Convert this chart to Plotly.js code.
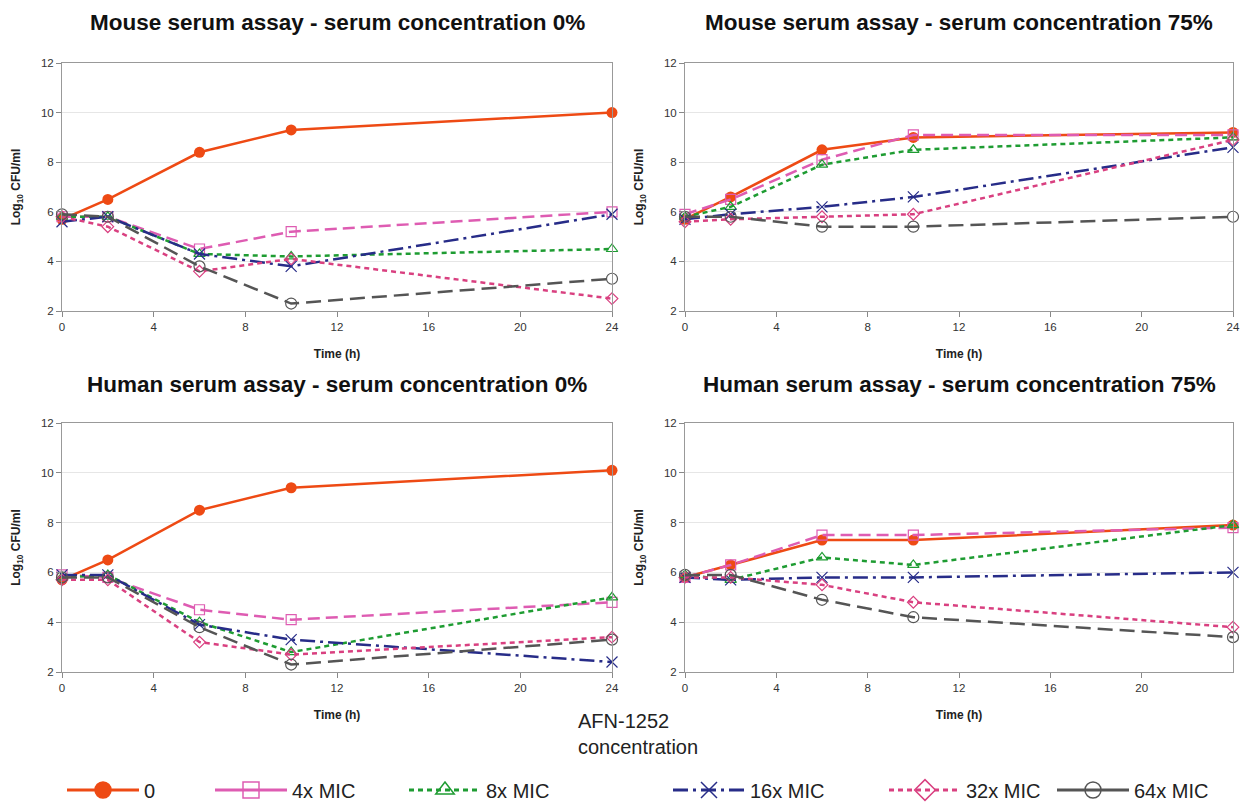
<!DOCTYPE html>
<html>
<head>
<meta charset="utf-8">
<script src="https://cdn.plot.ly/plotly-3.0.1.min.js"></script>
<style>html,body{margin:0;padding:0;background:#fff;}#chart{width:1240px;height:803px;}</style>
</head>
<body>
<div id="chart"></div>
<script>
// ---- data ----
var times = [0, 2, 6, 10, 24];
var seriesNames = ['0', '4x MIC', '8x MIC', '16x MIC', '32x MIC', '64x MIC'];
var panelTitles = [
  'Mouse serum assay - serum concentration 0%',
  'Mouse serum assay - serum concentration 75%',
  'Human serum assay - serum concentration 0%',
  'Human serum assay - serum concentration 75%'
];
var xTickVals = [0, 4, 8, 12, 16, 20, 24];
var xTickValsLast = [0, 4, 8, 12, 16, 20];
var yTickVals = [2, 4, 6, 8, 10, 12];

// values per series: [0, 4x, 8x, 16x, 32x, 64x]
var mouse0 = [
  [5.7, 6.5, 8.4, 9.3, 10.0],
  [5.8, 5.8, 4.5, 5.2, 6.0],
  [5.8, 5.8, 4.3, 4.2, 4.5],
  [5.6, 5.8, 4.3, 3.8, 5.9],
  [5.8, 5.4, 3.6, 4.1, 2.5],
  [5.9, 5.8, 3.8, 2.3, 3.3]
];
var mouse75 = [
  [5.7, 6.6, 8.5, 9.0, 9.2],
  [5.9, 6.5, 8.1, 9.1, 9.1],
  [5.8, 6.2, 7.9, 8.5, 9.0],
  [5.7, 5.9, 6.2, 6.6, 8.6],
  [5.6, 5.7, 5.8, 5.9, 8.9],
  [5.8, 5.8, 5.4, 5.4, 5.8]
];
var human0 = [
  [5.7, 6.5, 8.5, 9.4, 10.1],
  [5.9, 5.8, 4.5, 4.1, 4.8],
  [5.8, 5.9, 4.0, 2.8, 5.0],
  [5.9, 5.9, 3.9, 3.3, 2.4],
  [5.7, 5.7, 3.2, 2.7, 3.4],
  [5.8, 5.8, 3.8, 2.3, 3.3]
];
var human75 = [
  [5.8, 6.3, 7.3, 7.3, 7.9],
  [5.8, 6.3, 7.5, 7.5, 7.8],
  [5.9, 5.7, 6.6, 6.3, 7.9],
  [5.8, 5.7, 5.8, 5.8, 6.0],
  [5.8, 5.8, 5.5, 4.8, 3.8],
  [5.9, 5.9, 4.9, 4.2, 3.4]
];

// ---- styles ----
var colors = ['#EE4A14', '#DE5CB2', '#1E9C32', '#272C88', '#D94080', '#555555'];
var symbols = ['circle', 'square-open', 'triangle-up-open', 'x-thin-open', 'diamond-open', 'circle-open'];
var dashes = ['solid', '12px,6px', '5px,4px', '15px,5px,3px,5px', '5px,4px', '15px,7px'];
var markerSizes = [11, 10, 10, 11, 9, 11];
var FONT = 'Liberation Sans, Arial, Helvetica, sans-serif';

var panels = [mouse0, mouse75, human0, human75];
var axSuffix = ['', '2', '3', '4'];
var traces = [];

panels.forEach(function (panel, p) {
  panel.forEach(function (vals, s) {
    traces.push({
      type: 'scatter', mode: 'lines+markers',
      x: times, y: vals,
      xaxis: 'x' + axSuffix[p], yaxis: 'y' + axSuffix[p],
      name: seriesNames[s], showlegend: false, cliponaxis: false,
      line: {color: colors[s], width: 2.5, dash: dashes[s]},
      marker: {symbol: symbols[s], size: markerSizes[s], color: colors[s],
               line: {color: colors[s], width: s === 0 ? 0 : 1.2}}
    });
  });
});

// legend-only traces (one legend per entry to reproduce spacing)
seriesNames.forEach(function (nm, s) {
  traces.push({
    type: 'scatter', mode: 'lines+markers',
    x: [null], y: [null], name: nm, showlegend: true,
    legend: s === 0 ? 'legend' : 'legend' + (s + 1),
    line: {color: colors[s], width: 3, dash: s === 0 || s === 1 || s === 5 ? 'solid' : dashes[s]},
    marker: {symbol: symbols[s], size: 16, color: colors[s], line: {color: colors[s], width: 1.5}}
  });
});

// ---- layout ----
var W = 1240, H = 803;
function px(x) { return x / W; }
function py(y) { return 1 - y / H; }

var xDomL = [px(62), px(612)], xDomR = [px(685), px(1233)];
var yDomT = [py(311), py(63)], yDomB = [py(672), py(423)];
var xDoms = [xDomL, xDomR, xDomL, xDomR];
var yDoms = [yDomT, yDomT, yDomB, yDomB];

var layout = {
  width: W, height: H,
  margin: {l: 0, r: 0, t: 0, b: 0, autoexpand: false},
  paper_bgcolor: '#ffffff', plot_bgcolor: '#ffffff',
  font: {family: FONT, color: '#222'},
  annotations: [], showlegend: true
};

for (var p = 0; p < 4; p++) {
  var sfx = axSuffix[p];
  layout['xaxis' + sfx] = {
    domain: xDoms[p], anchor: 'y' + sfx, range: [0, 24],
    tickmode: 'array', tickvals: p === 3 ? xTickValsLast : xTickVals,
    ticks: 'outside', ticklen: 5, tickcolor: '#888', tickwidth: 1,
    ticklabeloverflow: 'allow', automargin: false,
    showline: true, mirror: true, linecolor: '#999', linewidth: 1,
    showgrid: false, zeroline: false,
    tickfont: {family: FONT, size: 11.5, color: '#333'},
    title: {text: '<b>Time (h)</b>', standoff: 17, font: {family: FONT, size: 12, color: '#222'}}
  };
  layout['yaxis' + sfx] = {
    domain: yDoms[p], anchor: 'x' + sfx, range: [2, 12],
    tickmode: 'array', tickvals: yTickVals,
    ticks: 'outside', ticklen: 5, tickcolor: '#888', tickwidth: 1,
    automargin: false,
    showline: true, mirror: true, linecolor: '#999', linewidth: 1,
    showgrid: true, gridcolor: '#e6e6e6', gridwidth: 1, zeroline: false,
    tickfont: {family: FONT, size: 11.5, color: '#333'},
    title: {text: '<b>Log<sub>10</sub> CFU/ml</b>', standoff: 17, font: {family: FONT, size: 12, color: '#222'}}
  };
  var xc = (xDoms[p][0] + xDoms[p][1]) / 2;
  layout.annotations.push({
    text: '<b>' + panelTitles[p] + '</b>', showarrow: false,
    xref: 'paper', yref: 'paper', x: xc, y: p < 2 ? py(22) : py(385),
    xanchor: 'center', yanchor: 'middle',
    font: {family: FONT, size: 22.5, color: '#111'}
  });
}

layout.annotations.push({
  text: 'AFN-1252<br>concentration', showarrow: false, align: 'left',
  xref: 'paper', yref: 'paper', x: px(576), y: py(734),
  xanchor: 'left', yanchor: 'middle',
  font: {family: FONT, size: 20, color: '#222'}
});

// legends
var legendX = [62, 210, 404, 668, 884, 1052];
legendX.forEach(function (lx, s) {
  var key = s === 0 ? 'legend' : 'legend' + (s + 1);
  layout[key] = {
    x: px(lx), y: py(790), xanchor: 'left', yanchor: 'middle',
    orientation: 'h', bgcolor: 'rgba(0,0,0,0)', borderwidth: 0,
    itemwidth: 72, itemsizing: 'trace',
    font: {family: FONT, size: 20, color: '#222'}
  };
});

Plotly.newPlot('chart', traces, layout, {staticPlot: true});
</script>
</body>
</html>
